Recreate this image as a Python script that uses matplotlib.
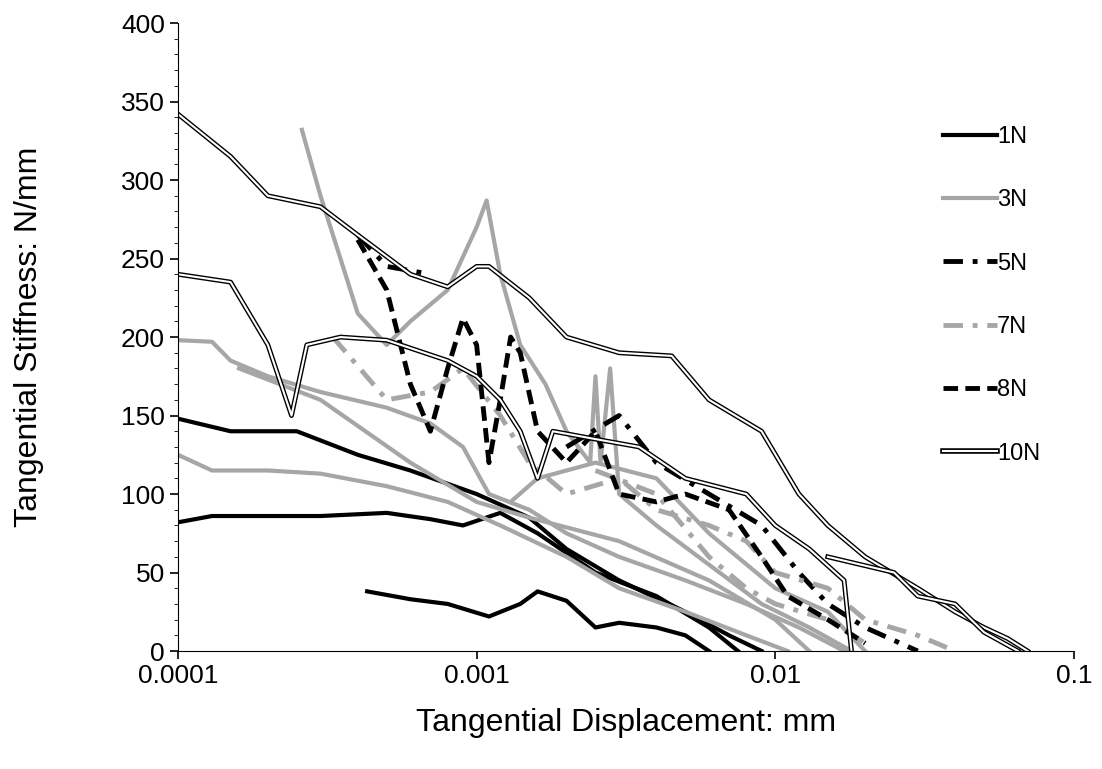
import matplotlib
matplotlib.use('Agg')
import matplotlib.pyplot as plt
from matplotlib.lines import Line2D

plt.rcParams['font.family'] = ['Liberation Sans', 'DejaVu Sans']

# curves per load: lists of (displacement mm, stiffness N/mm)
n1_curves = [
    ([1e-4, 1.5e-4, 2.5e-4, 4e-4, 6e-4, 1e-3, 1.5e-3, 2e-3, 3e-3, 5e-3, 7e-3, 9e-3],
     [148, 140, 140, 125, 115, 100, 85, 65, 45, 25, 10, 0]),
    ([1e-4, 1.3e-4, 3e-4, 5e-4, 7e-4, 9e-4, 1.2e-3, 1.6e-3, 2.5e-3, 4e-3, 6e-3, 7.5e-3],
     [82, 86, 86, 88, 84, 80, 88, 75, 50, 35, 15, 0]),
    ([4.3e-4, 6e-4, 8e-4, 1.1e-3, 1.4e-3, 1.6e-3, 2e-3, 2.5e-3, 3e-3, 4e-3, 5e-3, 6e-3],
     [38, 33, 30, 22, 30, 38, 32, 15, 18, 15, 10, 0]),
]
n3_curves = [
    ([2.6e-4, 3e-4, 3.5e-4, 4e-4, 5e-4, 6e-4, 8e-4, 1e-3, 1.08e-3, 1.2e-3, 1.4e-3, 1.7e-3, 2e-3,
      2.4e-3, 2.5e-3, 2.6e-3, 2.8e-3, 3e-3, 4e-3, 6e-3, 9e-3, 1.3e-2, 1.8e-2],
     [332, 290, 250, 215, 195, 210, 230, 270, 287, 240, 195, 170, 140,
      120, 175, 120, 180, 100, 80, 55, 30, 15, 0]),
    ([1e-4, 1.3e-4, 1.5e-4, 2e-4, 3e-4, 5e-4, 7e-4, 9e-4, 1.1e-3, 1.5e-3, 2e-3, 3e-3, 5e-3, 8e-3, 1.2e-2, 1.7e-2],
     [198, 197, 185, 175, 165, 155, 145, 130, 100, 90, 75, 60, 45, 30, 15, 0]),
    ([1e-4, 1.3e-4, 2e-4, 3e-4, 5e-4, 8e-4, 1.2e-3, 2e-3, 3e-3, 5e-3, 8e-3, 1.1e-2],
     [125, 115, 115, 113, 105, 95, 80, 60, 40, 25, 10, 0]),
    ([1.6e-4, 3e-4, 6e-4, 1e-3, 1.5e-3, 3e-3, 6e-3, 1e-2, 1.3e-2],
     [180, 160, 120, 95, 85, 70, 45, 20, 0]),
    ([1.3e-3, 1.6e-3, 2.5e-3, 4e-3, 6e-3, 1e-2, 1.5e-2, 2e-2],
     [95, 110, 120, 110, 75, 40, 25, 0]),
]
n5_curves = [
    ([4e-4, 5e-4, 7e-4],
     [265, 245, 240]),
    ([2e-3, 3e-3, 4e-3, 6e-3, 9e-3, 1.2e-2, 1.5e-2, 2e-2, 3e-2],
     [130, 150, 120, 100, 80, 50, 30, 15, 0]),
]
n7_curves = [
    ([3.3e-4, 5e-4, 7e-4, 9e-4, 1.2e-3, 1.5e-3, 2e-3, 3e-3, 4e-3, 6e-3, 8e-3, 1e-2, 1.5e-2, 2e-2, 3e-2, 4e-2],
     [200, 160, 165, 180, 150, 120, 100, 110, 90, 80, 70, 50, 40, 20, 10, 0]),
    ([2.5e-3, 4e-3, 6e-3, 8e-3, 1e-2, 1.5e-2, 2e-2],
     [115, 100, 60, 40, 30, 20, 5]),
]
n8_curves = [
    ([4e-4, 5e-4, 6e-4, 7e-4, 8e-4, 9e-4, 1e-3, 1.1e-3, 1.2e-3, 1.3e-3, 1.4e-3, 1.6e-3, 2e-3,
      2.5e-3, 3e-3, 4e-3, 5e-3, 7e-3, 9e-3, 1.1e-2, 1.5e-2, 2e-2],
     [262, 230, 170, 140, 180, 212, 195, 120, 160, 200, 190, 140, 120,
      140, 100, 95, 100, 90, 60, 35, 20, 5]),
]
n10_curves = [
    ([1e-4, 1.5e-4, 2e-4, 3e-4, 4e-4, 6e-4, 8e-4, 1e-3, 1.1e-3, 1.5e-3, 2e-3, 3e-3, 4.5e-3, 6e-3,
      9e-3, 1.2e-2, 1.5e-2, 2e-2, 3e-2, 4e-2, 5e-2, 6e-2, 7e-2],
     [342, 315, 290, 283, 265, 240, 232, 245, 245, 225, 200, 190, 188, 160,
      140, 100, 80, 60, 40, 25, 15, 8, 0]),
    ([1e-4, 1.5e-4, 2e-4, 2.4e-4, 2.7e-4, 3.5e-4, 5e-4, 8e-4, 1e-3, 1.2e-3, 1.4e-3, 1.6e-3, 1.8e-3,
      2.5e-3, 3.5e-3, 5e-3, 8e-3, 1e-2, 1.3e-2, 1.7e-2, 1.8e-2],
     [240, 235, 195, 150, 195, 200, 198, 185, 175, 160, 140, 110, 140,
      135, 130, 110, 100, 80, 65, 45, 0]),
    ([1.5e-2, 2.5e-2, 3e-2, 4e-2, 5e-2, 6.5e-2],
     [60, 50, 35, 30, 12, 0]),
]

labels = ['1N', '3N', '5N', '7N', '8N', '10N']
gray = '#a6a6a6'

fig = plt.figure(figsize=(11.02, 7.69), dpi=100)
ax = fig.add_axes([0.1615, 0.1534, 0.813, 0.8166])

for x, y in n1_curves:
    ax.plot(x, y, color='black', lw=3)
for x, y in n3_curves:
    ax.plot(x, y, color=gray, lw=3)
for x, y in n5_curves:
    ax.plot(x, y, color='black', lw=3.5, ls=(0, (4, 2, 1, 2)))
for x, y in n7_curves:
    ax.plot(x, y, color=gray, lw=3.5, ls=(0, (4, 2, 1, 2)))
for x, y in n8_curves:
    ax.plot(x, y, color='black', lw=3.5, ls=(0, (3, 1.5)))
for x, y in n10_curves:
    ax.plot(x, y, color='black', lw=3.5)
    ax.plot(x, y, color='white', lw=1.5)

ax.set_xscale('log')
ax.set_xlim(1e-4, 0.1)
ax.set_ylim(0, 400)
ax.set_xticks([1e-4, 1e-3, 1e-2, 1e-1])
ax.set_xticklabels(['0.0001', '0.001', '0.01', '0.1'])
ax.xaxis.set_minor_locator(matplotlib.ticker.NullLocator())
ax.set_yticks(range(0, 401, 50))
ax.set_yticks(range(0, 401, 10), minor=True)
ax.tick_params(axis='both', labelsize=19, direction='out', length=6, width=1.2)
ax.tick_params(axis='y', which='minor', direction='out', length=3)
ax.spines['top'].set_visible(False)
ax.spines['right'].set_visible(False)
ax.set_xlabel('Tangential Displacement: mm', fontsize=23, labelpad=14)
ax.set_ylabel('Tangential Stiffness: N/mm', fontsize=23, labelpad=55)

handles = [
    Line2D([], [], color='black', lw=3),
    Line2D([], [], color=gray, lw=3),
    Line2D([], [], color='black', lw=3.5, ls=(0, (4, 2, 1, 2))),
    Line2D([], [], color=gray, lw=3.5, ls=(0, (4, 2, 1, 2))),
    Line2D([], [], color='black', lw=3.5, ls=(0, (3, 1.5))),
    (Line2D([], [], color='black', lw=4), Line2D([], [], color='white', lw=1.5)),
]
leg = ax.legend(handles, labels, loc='upper left', bbox_to_anchor=(0.83, 0.87),
                frameon=False, fontsize=17, handlelength=2.3, handletextpad=0.0,
                labelspacing=1.75)
fig.savefig('out.png', dpi=100)
